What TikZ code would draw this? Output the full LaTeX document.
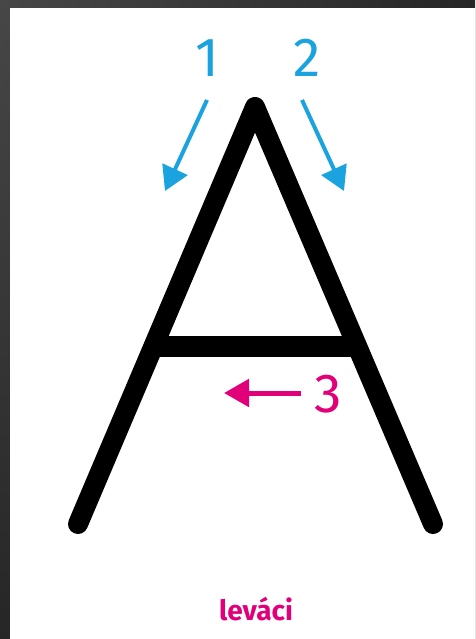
\documentclass[tikz,border=0pt]{standalone}
\usepackage{fontspec}
\setmainfont{Fira Sans}
\usetikzlibrary{arrows.meta,shadings}
\definecolor{stepblue}{HTML}{1AA3DE}
\definecolor{steppink}{HTML}{E2007A}
\definecolor{frameA}{HTML}{474747}
\definecolor{frameB}{HTML}{262626}
\tikzset{
  letterstroke/.style={line width=20pt, line cap=round, line join=round, black},
  barstroke/.style={line width=21pt, black},
  bluearrow/.style={stepblue, line width=4pt, -{Triangle[length=24pt,width=27pt]}},
  pinkarrow/.style={steppink, line width=5pt, -{Triangle[length=25pt,width=27pt]}},
  digit/.style={anchor=base, inner sep=0pt, font=\fontsize{55}{60}\selectfont},
  caption/.style={anchor=base, inner sep=0pt, text=steppink, font=\fontsize{28}{32}\selectfont\bfseries}
}
\begin{document}
\begin{tikzpicture}[x=1pt,y=-1pt]
  \useasboundingbox (0,0) rectangle (475,639);
  \shade[upper left=frameA, upper right=frameB, lower left=frameB, lower right=frameB] (0,0) rectangle (475,639);
  \fill[white] (10,8) rectangle (475,639);
  % letter A
  \coordinate (legL) at (78,524);
  \coordinate (apex) at (255,107);
  \coordinate (legR) at (433,524);
  \coordinate (barL) at (152,346);
  \coordinate (barR) at (358,346);
  \draw[letterstroke] (legL) -- (apex) -- (legR);
  \draw[barstroke] (barL) -- (barR);
  % step 1
  \node[digit, text=stepblue] (n1) at (207,77) {1};
  \coordinate (a1s) at (207,100);
  \coordinate (a1e) at (165,191);
  \draw[bluearrow] (a1s) -- (a1e);
  % step 2
  \node[digit, text=stepblue] (n2) at (307,77) {2};
  \coordinate (a2s) at (302,100);
  \coordinate (a2e) at (344,191);
  \draw[bluearrow] (a2s) -- (a2e);
  % step 3
  \node[digit, text=steppink] (n3) at (328,412) {3};
  \coordinate (a3s) at (301,393);
  \coordinate (a3e) at (224,393);
  \draw[pinkarrow] (a3s) -- (a3e);
  % caption
  \node[caption] (cap) at (256,620) {leváci};
\end{tikzpicture}
\end{document}
